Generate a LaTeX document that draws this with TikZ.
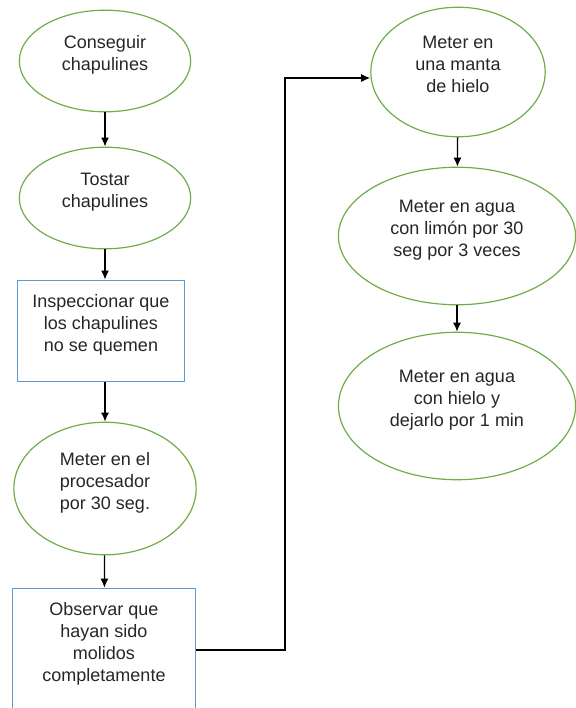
\documentclass[tikz,border=0pt]{standalone}
\usepackage{fontspec}
\setmainfont{Liberation Sans}
\usetikzlibrary{shapes.geometric, arrows.meta}
\definecolor{verde}{RGB}{112,173,71}
\definecolor{azul}{RGB}{91,155,213}
\begin{document}
\begin{tikzpicture}[x=1bp, y=-1bp]
	\tikzset{paso/.style={inner sep=0pt, align=center, text depth=16bp, text=black!85, font=\fontsize{18bp}{22bp}\selectfont},
		elipse/.style={paso, ellipse, draw=verde, line width=1.2bp},
		caja/.style={paso, rectangle, draw=azul, line width=1.2bp},
		flecha/.style={>={Latex[length=9bp, width=8bp]}, ->, line width=1.3bp}};
	\useasboundingbox (0,0) rectangle (576,708);

	\node[elipse, minimum width=172, minimum height=102] (conseguir) at (105,61) {Conseguir\\chapulines};
	\node[elipse, minimum width=172, minimum height=102] (tostar) at (105,198) {Tostar\\chapulines};
	\node[caja, minimum width=167, minimum height=102] (inspeccionar) at (101,331) {Inspeccionar que\\los chapulines\\no se quemen};
	\node[elipse, minimum width=183, minimum height=133] (procesador) at (105,488.5) {Meter en el\\procesador\\por 30 seg.};
	\node[caja, minimum width=183, minimum height=124] (observar) at (104,650) {Observar que\\hayan sido\\molidos\\completamente};
	\node[elipse, minimum width=175, minimum height=130] (manta) at (458,72) {Meter en\\una manta\\de hielo};
	\node[elipse, minimum width=238, minimum height=138] (limon) at (457,236) {Meter en agua\\con limón por 30\\seg por 3 veces};
	\node[elipse, minimum width=238, minimum height=148] (hielo) at (457,406) {Meter en agua\\con hielo y\\dejarlo por 1 min};
	\coordinate (codo) at (285,78);

	\draw[flecha] (conseguir) -- (tostar);
	\draw[flecha] (tostar.south) -- (tostar.south |- inspeccionar.north);
	\draw[flecha] (procesador.north |- inspeccionar.south) -- (procesador.north);
	\draw[flecha] (procesador) -- (observar);
	\draw[flecha] (observar.east) -| (codo) -- (codo -| manta.west);
	\draw[flecha] (manta) -- (limon);
	\draw[flecha] (limon) -- (hielo);
\end{tikzpicture}
\end{document}
